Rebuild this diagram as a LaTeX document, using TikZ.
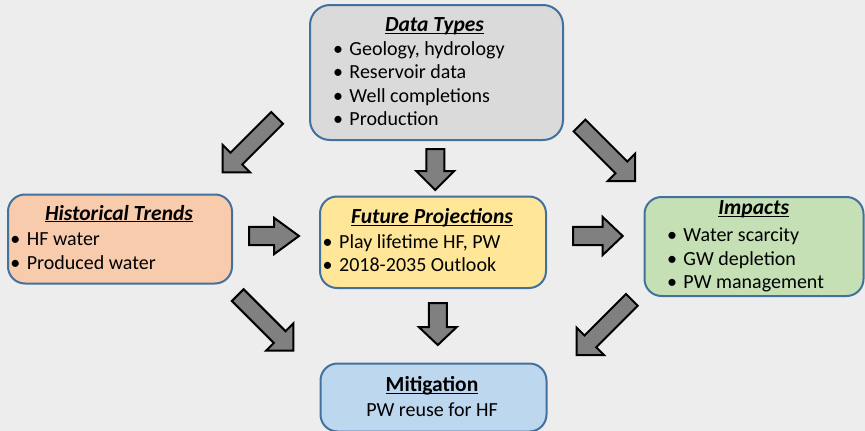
\documentclass[tikz,border=0pt]{standalone}
\usepackage{fontspec}
\setmainfont{Carlito}
\usetikzlibrary{calc}

% underline drawn just below the baseline, crossing the descenders
\newcommand{\titleline}[1]{\setbox0\hbox{#1}\rlap{\rule[-2.4pt]{\wd0}{1.2pt}}\box0}
% bullet hung to the left of the item text
\newcommand{\bul}{\makebox[0pt][r]{\textbullet\hspace{6.5pt}}}

\definecolor{bgcol}{HTML}{EDEDED}
\definecolor{edgeblue}{HTML}{41719C}
\definecolor{datafill}{HTML}{DADADA}
\definecolor{histfill}{HTML}{F8CBAD}
\definecolor{futfill}{HTML}{FFE699}
\definecolor{impfill}{HTML}{C5E0B4}
\definecolor{mitfill}{HTML}{BDD7EE}
\definecolor{arrowgray}{HTML}{808080}

\tikzset{
  panel/.style={draw=edgeblue, line width=2pt, rounded corners=17pt,
    inner sep=0pt, anchor=north west},
  txt/.style={inner sep=0pt, font=\fontsize{20}{24}\selectfont},
  ttl/.style={txt, anchor=base, font=\fontsize{21.5}{25}\selectfont\bfseries\itshape},
  plainttl/.style={txt, anchor=base, font=\fontsize{21.5}{25}\selectfont\bfseries},
  itm/.style={txt, anchor=base west},
  ctr/.style={txt, anchor=base},
  arrowbody/.style={draw=black, fill=arrowgray, line width=2pt, line join=miter},
  % block arrow with its origin at the tip, pointing along +x:
  % #1 length, #2 half shaft width, #3 half head width, #4 head length
  pics/barrow/.style n args={4}{code={
    \path[arrowbody] (0,0) -- (-#4,#3) -- (-#4,#2) -- (-#1,#2)
      -- (-#1,-#2) -- (-#4,-#2) -- (-#4,-#3) -- cycle;
  }}
}

\begin{document}
\begin{tikzpicture}[x=1pt, y=-1pt]
\useasboundingbox (0,0) rectangle (865,431);
\fill[bgcol] (0,0) rectangle (865,431);

% ---- boxes ----
\node[panel, fill=datafill, rounded corners=20pt, minimum width=253pt, minimum height=135pt] (data) at (309,4) {};
\node[panel, fill=histfill, minimum width=224pt, minimum height=89pt] (hist) at (7,193.5) {};
\node[panel, fill=futfill, minimum width=226pt, minimum height=91.5pt] (fut) at (319,195.5) {};
\node[panel, fill=impfill, minimum width=219pt, minimum height=99pt] (imp) at (643.5,196) {};
\node[panel, fill=mitfill, minimum width=226pt, minimum height=68pt] (mit) at (319.5,362.5) {};

% ---- Data Types ----
\node[ttl] (dataT) at (434.5,31.5) {\titleline{Data Types}};
\node[itm] (data1) at (349.3,55) {\bul Geology, hydrology};
\node[itm] (data2) at (349.3,78.5) {\bul Reservoir data};
\node[itm] (data3) at (349.3,102) {\bul Well completions};
\node[itm] (data4) at (349.3,125.5) {\bul Production};

% ---- Historical Trends ----
\node[ttl] (histT) at (119,220) {\titleline{Historical Trends}};
\node[itm] (hist1) at (26.7,245) {\bul HF water};
\node[itm] (hist2) at (26.7,269.3) {\bul Produced water};

% ---- Future Projections ----
\node[ttl] (futT) at (432,223.3) {\titleline{Future Projections}};
\node[itm] (fut1) at (339,248.3) {\bul Play lifetime HF, PW};
\node[itm] (fut2) at (339,271.5) {\bul 2018-2035 Outlook};

% ---- Impacts ----
\node[ttl] (impT) at (753.7,214.3) {\titleline{Impacts}};
\node[itm] (imp1) at (683.3,241) {\bul Water scarcity};
\node[itm] (imp2) at (683.3,265) {\bul GW depletion};
\node[itm] (imp3) at (683.3,288.5) {\bul PW management};

% ---- Mitigation ----
\node[plainttl] (mitT) at (432,391.7) {\titleline{Mitigation}};
\node[ctr] (mit1) at (432,416.7) {PW reuse for HF};

% ---- block arrows (tips) ----
\coordinate (tipDF) at (435.3,190);
\coordinate (tipFM) at (437.8,345);
\coordinate (tipHF) at (299,236);
\coordinate (tipFI) at (622.7,236);
\coordinate (tipDH) at (222.7,172.3);
\coordinate (tipDI) at (635,181);
\coordinate (tipHM) at (293.3,350.7);
\coordinate (tipIM) at (576.7,355);

\pic[rotate=-90] at (tipDF) {barrow={41}{9}{19}{19}};
\pic[rotate=-90] at (tipFM) {barrow={42}{9}{19}{18}};
\pic at (tipHF) {barrow={50}{9.2}{18.2}{25}};
\pic at (tipFI) {barrow={49.5}{9.2}{19}{20}};
\pic[rotate=225] at (tipDH) {barrow={77}{8.3}{19.3}{19.3}};
\pic[rotate=-45] at (tipDI) {barrow={78.5}{8.3}{19.3}{19.3}};
\pic[rotate=-45] at (tipHM) {barrow={78.6}{8.3}{19.3}{19.3}};
\pic[rotate=225] at (tipIM) {barrow={78}{8.3}{19.3}{19.3}};
\end{tikzpicture}
\end{document}
